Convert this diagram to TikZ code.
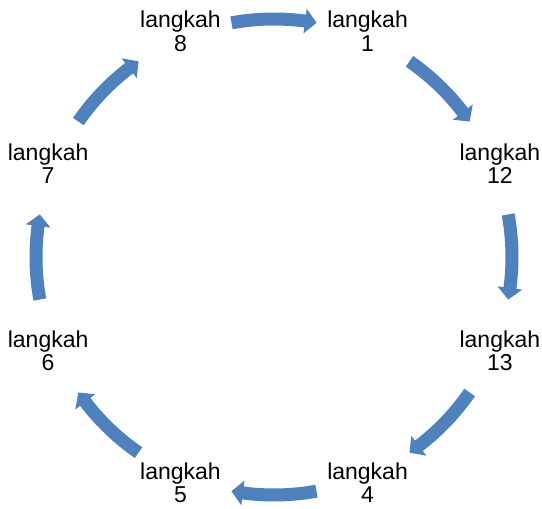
\documentclass[tikz,border=0pt]{standalone}
\usepackage{fontspec}
\setmainfont{Liberation Sans}
\definecolor{cyclefill}{HTML}{4F81BD}
\tikzset{
  steplabel/.style={align=center, font=\fontsize{23}{23.5}\selectfont, inner sep=0pt, text=black},
  cyclearrow/.style={fill=cyclefill, draw=none},
}
\begin{document}
\begin{tikzpicture}[x=1pt,y=1pt]
\useasboundingbox (0,0) rectangle (542,509);
\begin{scope}[shift={(274,252)}]
  % step labels on the ring
  \foreach \name/\ang/\txt in {s1/67.5/1, s12/22.5/12, s13/-22.5/13, s4/-67.5/4,
                               s5/-112.5/5, s6/-157.5/6, s7/157.5/7, s8/112.5/8}
    \node[steplabel] (\name) at (\ang:244.5) {langkah\\\txt};
  % curved block arrows, clockwise, between neighbouring steps
  \foreach \m in {90,45,0,-45,-90,-135,180,135} {
    \pgfmathsetmacro\a{\m+10.3}
    \pgfmathsetmacro\b{\m-7.5}
    \pgfmathsetmacro\t{\m-10.3}
    \fill[cyclearrow] (\a:244.5) arc[start angle=\a, end angle=\b, radius=244.5]
      -- (\b:250.5) -- (\t:238) -- (\b:225.5) -- (\b:231.5)
      arc[start angle=\b, end angle=\a, radius=231.5] -- cycle;
  }
\end{scope}
\end{tikzpicture}
\end{document}
